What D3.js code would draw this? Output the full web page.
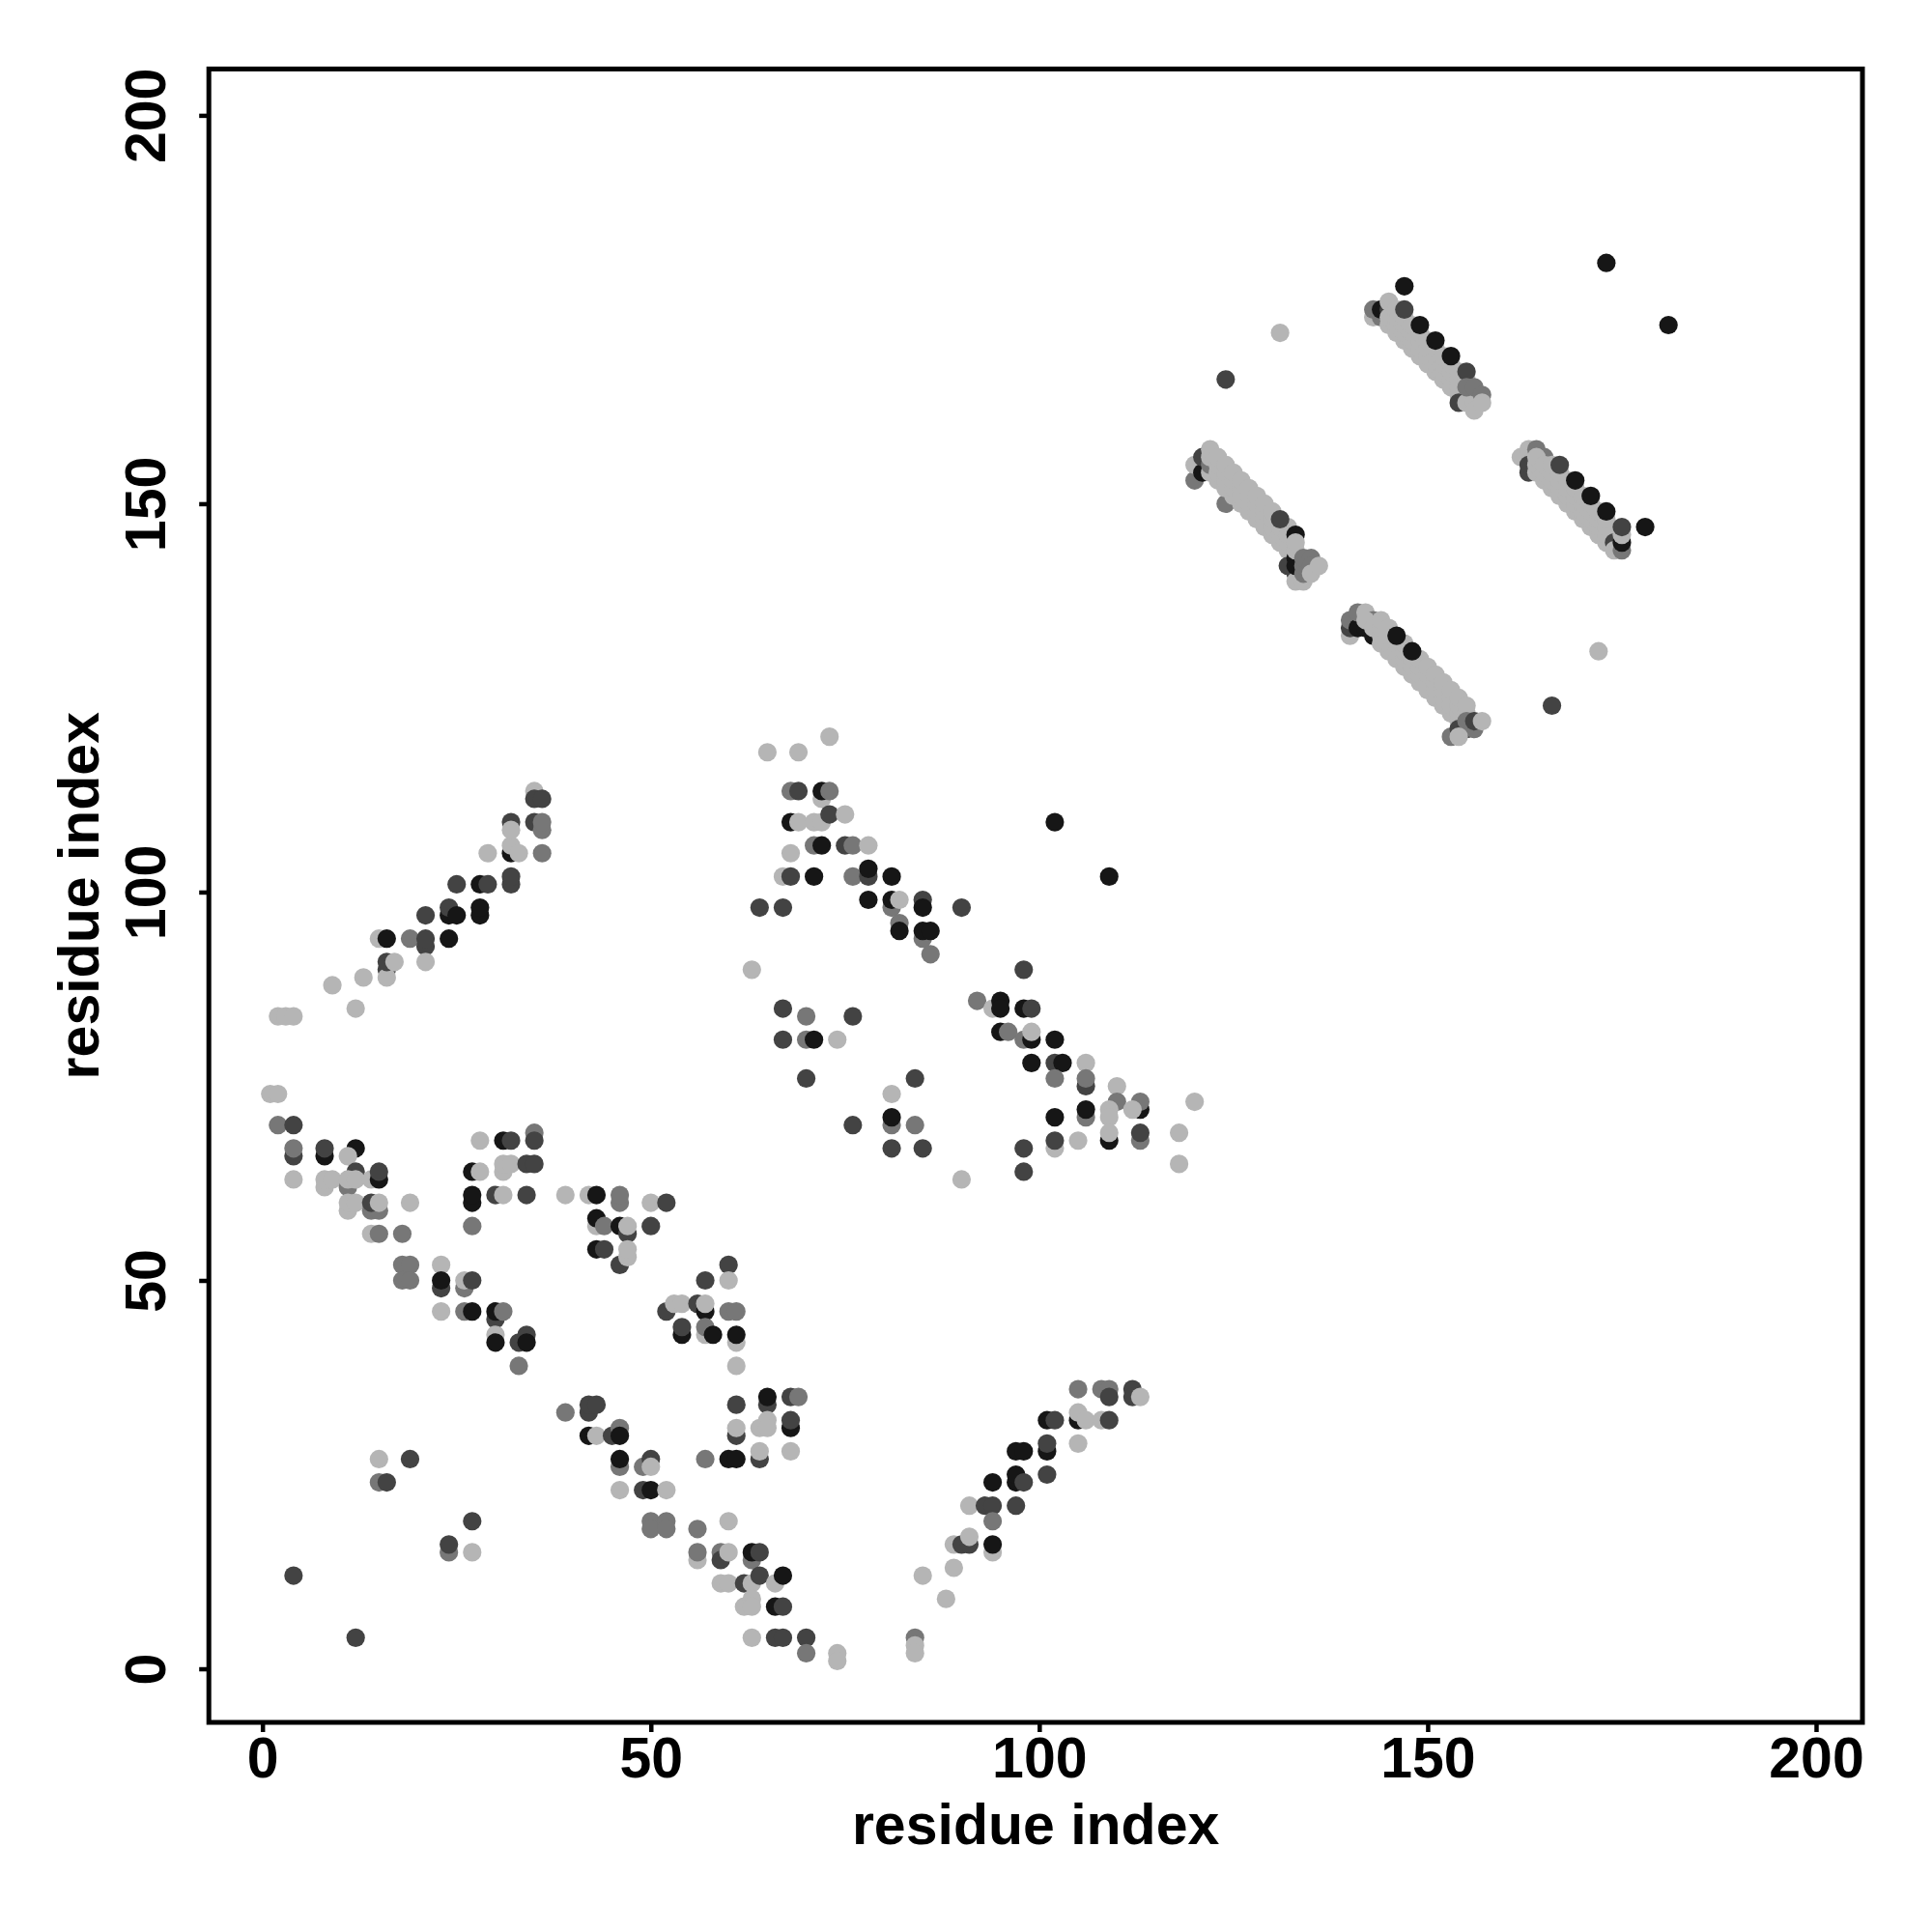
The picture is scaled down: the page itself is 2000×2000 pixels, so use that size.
<!DOCTYPE html>
<html><head><meta charset="utf-8">
<script src="https://cdn.jsdelivr.net/npm/d3@7"></script>
<style>body{margin:0;background:#fff}svg{display:block}</style>
</head><body>
<svg id="chart" width="2000" height="2000"></svg>
<script>
// ---- data ----
const xTicks = [0, 50, 100, 150, 200];
const yTicks = [0, 50, 100, 150, 200];
const xTitle = "residue index";
const yTitle = "residue index";
const shadeColors = { l: "#b5b5b5", m: "#777777", d: "#434343", k: "#161616" };

const contactsUpperLeft = [
  [2,84,"l"],[3,84,"l"],[4,84,"l"],[9,88,"l"],[12,85,"l"],[13,89,"l"],[16,90,"d"],[16,89,"l"],[16,91,"d"],[17,91,"l"],
  [15,94,"l"],[16,94,"k"],[19,94,"m"],[21,93,"d"],[21,94,"d"],[21,91,"l"],[24,94,"k"],[21,97,"d"],[24,97,"k"],[24,98,"d"],
  [25,97,"k"],[28,97,"k"],[28,98,"k"],[25,101,"d"],[28,101,"k"],[29,101,"d"],[32,101,"d"],[32,102,"d"],[29,105,"l"],
  [32,105,"k"],[32,106,"l"],[33,105,"l"],[36,105,"m"],[32,109,"d"],[32,108,"l"],[35,109,"d"],[36,108,"m"],[36,109,"m"],
  [35,113,"l"],[35,112,"d"],[36,112,"d"]
];

const contactsLowerLeft = [
  [1,74,"l"],[2,74,"l"],[2,70,"m"],[4,70,"d"],[4,66,"d"],[4,67,"m"],[8,66,"k"],[8,67,"d"],[12,67,"k"],
  [4,63,"l"],[8,62,"l"],[8,63,"l"],[9,63,"l"],[11,66,"l"],[12,64,"d"],[11,62,"m"],[11,63,"l"],[12,63,"l"],[14,63,"l"],
  [15,63,"k"],[15,64,"d"],[11,59,"l"],[11,60,"l"],[12,60,"l"],[14,59,"m"],[15,59,"m"],[14,60,"d"],[15,60,"l"],[19,60,"l"],
  [14,56,"l"],[15,56,"m"],[18,56,"m"],[18,52,"m"],[19,52,"m"],[18,50,"m"],[19,50,"m"],[23,52,"l"],[23,49,"d"],[23,50,"k"],
  [26,49,"m"],[26,50,"l"],[27,50,"d"],[23,46,"l"],[26,46,"m"],[27,46,"k"],[30,45,"d"],[30,46,"k"],[31,46,"m"],
  [30,43,"l"],[30,42,"k"],[33,42,"d"],[34,43,"d"],[34,42,"k"],[33,39,"m"],
  [28,68,"l"],[31,68,"k"],[32,68,"d"],[35,69,"m"],[35,68,"d"],[27,64,"k"],[28,64,"l"],[31,64,"l"],[31,65,"l"],[32,65,"l"],
  [34,65,"d"],[35,65,"d"],[27,60,"k"],[27,61,"k"],[30,61,"d"],[31,61,"l"],[34,61,"d"],[27,57,"m"],
  [39,61,"l"],[42,61,"l"],[43,61,"k"],[46,60,"m"],[46,61,"m"],[50,60,"l"],[52,60,"d"],
  [43,57,"l"],[43,58,"k"],[44,57,"m"],[46,57,"k"],[47,56,"d"],[47,57,"l"],[50,57,"d"],
  [43,54,"k"],[44,54,"d"],[46,52,"d"],[47,53,"l"],[47,54,"l"],[60,52,"d"],[60,50,"l"],[57,50,"d"],
  [52,46,"d"],[53,47,"l"],[54,47,"l"],[56,47,"d"],[57,46,"k"],[57,47,"l"],[60,46,"m"],[61,46,"m"],
  [54,43,"k"],[54,44,"d"],[57,43,"l"],[57,44,"m"],[58,43,"k"],[61,42,"l"],[61,43,"k"],[61,39,"l"],
  [15,27,"l"],[19,27,"d"],[15,24,"m"],[16,24,"d"],[27,19,"d"],[24,15,"m"],[24,16,"d"],[27,15,"l"],[4,12,"d"],[12,4,"d"],
  [39,33,"m"],[42,33,"d"],[42,34,"d"],[43,34,"d"],[42,30,"k"],[43,30,"l"],[45,30,"d"],[46,31,"m"],[46,30,"k"],
  [46,26,"m"],[46,27,"k"],[49,26,"m"],[50,27,"d"],[50,26,"l"],[46,23,"l"],[49,23,"d"],[50,23,"k"],[52,23,"l"],
  [50,19,"m"],[50,18,"m"],[52,19,"m"],[52,18,"m"],[56,18,"m"],[60,19,"l"],
  [56,14,"l"],[56,15,"m"],[59,15,"m"],[59,14,"d"],[60,15,"l"],[63,14,"m"],[63,15,"k"],[64,15,"d"],
  [59,11,"l"],[60,11,"l"],[62,11,"d"],[63,11,"l"],[64,12,"d"],[66,11,"l"],[67,12,"k"],
  [62,8,"l"],[63,9,"l"],[63,8,"l"],[66,8,"k"],[67,8,"d"],[63,4,"l"],[66,4,"d"],[67,4,"d"],[70,4,"d"],[70,2,"m"],
  [61,34,"d"],[65,34,"d"],[65,35,"k"],[68,35,"d"],[69,35,"m"],
  [61,30,"d"],[61,31,"l"],[64,31,"l"],[65,32,"l"],[65,31,"l"],[68,31,"k"],[68,32,"d"],
  [57,27,"m"],[60,27,"k"],[61,27,"k"],[64,27,"d"],[64,28,"l"],[68,28,"l"],[74,2,"l"],[74,1,"l"]
];

const contactsMiddle = [
  [65,118,"l"],[69,118,"l"],[73,120,"l"],
  [68,113,"m"],[69,113,"d"],[72,112,"l"],[72,113,"k"],[73,113,"m"],
  [68,109,"k"],[69,109,"l"],[71,109,"l"],[72,109,"l"],[73,110,"d"],[75,110,"l"],
  [71,106,"m"],[72,106,"k"],[75,106,"d"],[76,106,"m"],[78,106,"l"],[68,105,"l"],
  [67,102,"l"],[68,102,"d"],[71,102,"k"],[76,102,"m"],[78,102,"d"],[78,103,"k"],[81,102,"k"],
  [64,98,"d"],[67,98,"d"],[78,99,"k"],[81,98,"m"],[81,99,"k"],[82,99,"l"],[85,99,"d"],[85,98,"k"],[90,98,"d"],
  [82,96,"m"],[82,95,"k"],[85,94,"m"],[85,95,"k"],[86,95,"k"],[86,92,"m"],[63,90,"l"],
  [67,85,"d"],[70,84,"m"],[76,84,"d"],[67,81,"d"],[70,81,"m"],[71,81,"k"],[74,81,"l"],
  [70,76,"d"],[84,76,"d"],[81,74,"l"],[81,70,"m"],[81,71,"k"],[76,70,"d"],[84,70,"m"],[81,67,"d"],[85,67,"d"],[90,63,"l"],
  [102,109,"k"],[109,102,"k"],[98,90,"d"],
  [92,86,"m"],[94,85,"l"],[95,86,"k"],[95,85,"k"],[98,85,"k"],[99,85,"d"],
  [95,82,"k"],[96,82,"m"],[98,81,"m"],[99,81,"k"],[99,82,"l"],[102,81,"k"],
  [99,78,"k"],[102,78,"d"],[103,78,"k"],[106,78,"l"],[102,76,"m"],[106,75,"d"],[106,76,"m"],[110,75,"l"],
  [110,73,"m"],[113,72,"k"],[113,73,"m"],[120,73,"l"],
  [102,71,"k"],[106,71,"m"],[106,72,"k"],[109,72,"l"],[109,71,"l"],[112,72,"l"],
  [102,67,"l"],[102,68,"d"],[105,68,"l"],[109,68,"k"],[109,69,"l"],[113,68,"m"],[113,69,"d"],[118,69,"l"],[118,65,"l"],
  [98,67,"d"],[98,64,"d"]
];

const contactsLowerMiddle = [
  [105,36,"m"],[108,36,"m"],[109,36,"m"],[109,35,"d"],[112,36,"d"],[112,35,"d"],[113,35,"l"],
  [101,32,"k"],[102,32,"d"],[105,32,"k"],[105,33,"l"],[106,32,"l"],[108,32,"l"],[109,32,"d"],[105,29,"l"],
  [97,28,"k"],[98,28,"k"],[101,28,"k"],[101,29,"d"],
  [94,24,"k"],[97,24,"k"],[97,25,"k"],[98,24,"d"],[101,25,"d"],
  [91,21,"l"],[93,21,"d"],[94,21,"d"],[97,21,"d"],[94,19,"m"],
  [89,16,"l"],[90,16,"d"],[91,16,"d"],[91,17,"l"],[94,15,"l"],[94,16,"k"],
  [89,13,"l"],[85,12,"l"],[88,9,"l"],[84,4,"m"],[84,3,"l"],[84,2,"l"]
];

const contactsUpperRightSingles = [
  [131,172,"l"],[124,166,"d"],[147,178,"k"],[173,181,"k"],[181,173,"k"],[172,131,"l"],[166,124,"d"],[178,147,"k"]
];

const sheetA = [
  [120,153,"m"],[124,150,"m"],[120,155,"l"],[121,154,"k"],[121,156,"d"],[122,154,"l"],[122,155,"m"],[122,156,"l"],[122,157,"l"],
  [123,153,"l"],[123,154,"l"],[123,155,"l"],[123,156,"l"],
  [124,152,"l"],[124,153,"l"],[124,154,"l"],[124,155,"l"],
  [125,151,"l"],[125,152,"l"],[125,153,"l"],[125,154,"l"],
  [126,150,"l"],[126,151,"l"],[126,152,"l"],[126,153,"l"],
  [127,149,"l"],[127,150,"l"],[127,151,"l"],[127,152,"l"],
  [128,148,"l"],[128,149,"l"],[128,150,"l"],[128,151,"l"],
  [129,147,"l"],[129,148,"l"],[129,149,"l"],[129,150,"l"],
  [130,146,"l"],[130,147,"l"],[130,148,"l"],[130,149,"l"],
  [131,145,"l"],[131,146,"l"],[131,147,"l"],[132,144,"l"],[132,145,"l"],[132,146,"l"],[132,147,"l"],
  [131,148,"d"],[133,146,"k"],
  [132,142,"d"],[133,141,"d"],[133,140,"l"],[134,140,"l"],[133,143,"k"],[133,142,"k"],[133,144,"l"],[133,145,"l"],
  [134,141,"m"],[134,142,"m"],[134,143,"m"],[135,143,"m"],[135,142,"m"],[135,141,"l"],[136,142,"l"]
];

const sheetB = [
  [140,133,"l"],[140,134,"d"],[140,135,"m"],[141,134,"k"],[141,136,"m"],[142,134,"k"],[142,136,"l"],[143,133,"k"],[143,135,"m"],
  [142,135,"l"],[143,134,"l"],[144,132,"l"],[144,133,"l"],[144,134,"l"],[144,135,"l"],
  [145,131,"l"],[145,132,"l"],[145,133,"l"],[145,134,"l"],
  [146,130,"l"],[146,131,"l"],[146,132,"l"],
  [147,129,"l"],[147,130,"l"],[147,131,"l"],[147,132,"l"],
  [148,128,"l"],[148,129,"l"],[148,130,"l"],
  [149,127,"l"],[149,128,"l"],[149,129,"l"],[149,130,"l"],
  [150,126,"l"],[150,127,"l"],[150,128,"l"],[150,129,"l"],
  [151,125,"l"],[151,126,"l"],[151,127,"l"],[151,128,"l"],
  [152,124,"l"],[152,125,"l"],[152,126,"l"],[152,127,"l"],
  [153,123,"l"],[153,124,"l"],[153,125,"l"],[153,126,"l"],
  [154,122,"l"],[154,123,"l"],[154,124,"l"],[154,125,"l"],
  [155,123,"l"],[155,124,"l"],[146,133,"k"],[148,131,"k"],
  [153,120,"m"],[154,121,"d"],[155,121,"d"],[155,122,"m"],[156,121,"m"],[156,122,"d"],[154,120,"l"],[157,122,"l"]
];

const sheetC = [
  [143,174,"l"],[143,175,"m"],[144,174,"m"],[144,175,"k"],[145,175,"d"],
  [145,173,"l"],[145,174,"l"],[145,176,"l"],
  [146,172,"l"],[146,173,"l"],[146,174,"l"],[146,175,"l"],
  [147,171,"l"],[147,172,"l"],[147,173,"l"],[147,174,"l"],
  [148,170,"l"],[148,171,"l"],[148,172,"l"],[148,173,"l"],
  [149,169,"l"],[149,170,"l"],[149,171,"l"],[149,172,"l"],
  [150,168,"l"],[150,169,"l"],[150,170,"l"],[150,171,"l"],
  [151,167,"l"],[151,168,"l"],[151,169,"l"],[151,170,"l"],
  [152,166,"l"],[152,167,"l"],[152,168,"l"],[152,169,"l"],
  [153,165,"l"],[153,166,"l"],[153,167,"l"],[153,168,"l"],
  [154,164,"l"],[154,165,"l"],[154,166,"l"],[154,167,"l"],
  [155,164,"l"],[155,166,"l"],
  [147,175,"d"],[149,173,"k"],[151,171,"k"],[153,169,"k"],[155,167,"d"],
  [154,163,"d"],[155,163,"l"],[156,163,"l"],[156,162,"l"],[155,165,"m"],[156,165,"m"],[157,164,"m"],[157,163,"l"]
];

const sheetD = [
  [162,156,"l"],[163,157,"l"],[163,154,"d"],[163,155,"d"],[164,157,"m"],[165,156,"m"],
  [164,154,"l"],[164,155,"l"],[164,156,"l"],
  [165,153,"l"],[165,154,"l"],[165,155,"l"],
  [166,152,"l"],[166,153,"l"],[166,154,"l"],[166,155,"l"],
  [167,151,"l"],[167,152,"l"],[167,153,"l"],[167,154,"l"],
  [168,150,"l"],[168,151,"l"],[168,152,"l"],[168,153,"l"],
  [169,149,"l"],[169,150,"l"],[169,151,"l"],[169,152,"l"],
  [170,148,"l"],[170,149,"l"],[170,150,"l"],[170,151,"l"],
  [171,147,"l"],[171,148,"l"],[171,149,"l"],[171,150,"l"],
  [172,146,"l"],[172,147,"l"],[172,148,"l"],[172,149,"l"],
  [173,145,"l"],[173,146,"l"],[173,147,"l"],[173,148,"l"],
  [167,155,"d"],[169,153,"k"],[171,151,"k"],[173,149,"k"],
  [174,145,"d"],[174,144,"l"],[175,144,"m"],[175,145,"k"],[175,146,"l"],[175,147,"d"]
];

// ---- layout ----
const frame = { left: 216.2, right: 1928, top: 71.4, bottom: 1783 };
const domain = [-6.9, 205.97];
const x = d3.scaleLinear().domain(domain).range([frame.left, frame.right]);
const y = d3.scaleLinear().domain(domain).range([frame.bottom, frame.top]);
const font = "'Liberation Sans', Arial, Helvetica, sans-serif";
const fontSize = 59;

const svg = d3.select("#chart");
svg.append("rect").attr("width", 2000).attr("height", 2000).attr("fill", "#fff");

const allPoints = [].concat(contactsUpperLeft, contactsLowerLeft, contactsMiddle,
  contactsLowerMiddle, sheetA, sheetB, sheetC, sheetD, contactsUpperRightSingles);

svg.append("g").selectAll("circle").data(allPoints).join("circle")
  .attr("cx", d => x(d[0])).attr("cy", d => y(d[1]))
  .attr("r", 9.6).attr("fill", d => shadeColors[d[2]]);

// frame
svg.append("rect")
  .attr("x", frame.left).attr("y", frame.top)
  .attr("width", frame.right - frame.left).attr("height", frame.bottom - frame.top)
  .attr("fill", "none").attr("stroke", "#000").attr("stroke-width", 5);

// x axis
const xAxis = d3.axisBottom(x).tickValues(xTicks).tickSize(10).tickPadding(0).tickFormat(d3.format("d"));
const gx = svg.append("g").attr("transform", `translate(0,${frame.bottom})`).call(xAxis);
gx.select(".domain").remove();
gx.selectAll(".tick line").attr("stroke", "#000").attr("stroke-width", 4.5);
gx.selectAll(".tick text").attr("y", 57).attr("dy", 0)
  .attr("font-family", font).attr("font-size", fontSize).attr("font-weight", "bold").attr("fill", "#000");

// y axis
const yAxis = d3.axisLeft(y).tickValues(yTicks).tickSize(10).tickPadding(0).tickFormat(d3.format("d"));
const gy = svg.append("g").attr("transform", `translate(${frame.left},0)`).call(yAxis);
gy.select(".domain").remove();
gy.selectAll(".tick line").attr("stroke", "#000").attr("stroke-width", 4.5);
gy.selectAll(".tick text")
  .attr("x", null).attr("dy", 0).attr("text-anchor", "middle")
  .attr("transform", "translate(-45,0) rotate(-90)")
  .attr("font-family", font).attr("font-size", fontSize).attr("font-weight", "bold").attr("fill", "#000");

// titles
svg.append("text").attr("x", (frame.left + frame.right) / 2).attr("y", 1909)
  .attr("text-anchor", "middle").attr("font-family", font).attr("font-size", fontSize)
  .attr("font-weight", "bold").text(xTitle);
svg.append("text").attr("transform", `translate(102,${(frame.top + frame.bottom) / 2}) rotate(-90)`)
  .attr("text-anchor", "middle").attr("font-family", font).attr("font-size", fontSize)
  .attr("font-weight", "bold").text(yTitle);
</script>
</body></html>
